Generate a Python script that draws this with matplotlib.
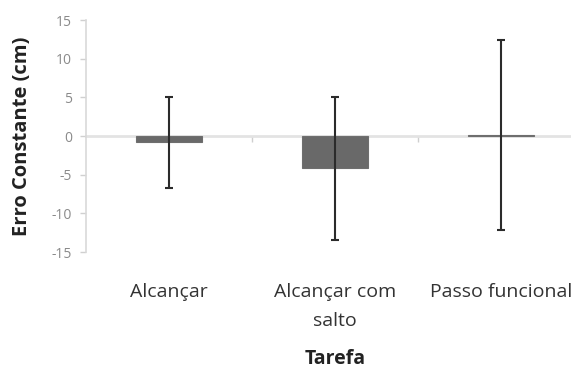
import matplotlib
matplotlib.use("Agg")
import matplotlib.pyplot as plt
import numpy as np

categories = ["Alcançar", "Alcançar com\nsalto", "Passo funcional"]
means = [-0.8, -4.2, 0.1]
errors = [5.9, 9.3, 12.3]
yticks = [-15, -10, -5, 0, 5, 10, 15]

plt.rcParams["font.family"] = ["Open Sans", "DejaVu Sans"]

fig = plt.figure(figsize=(5.71, 3.71), dpi=100)
ax = fig.add_axes([86 / 571, 1 - 252 / 371, 498 / 571, 232 / 371])

x = np.arange(len(categories))
ax.bar(x, means, width=0.4, color="#696969", edgecolor="#6e6e6e", linewidth=0.8, zorder=2)
ax.errorbar(x, means, yerr=errors, fmt="none", ecolor="#2b2b2b", elinewidth=1.5,
            capsize=3, capthick=1.5, zorder=3)

ax.set_xlim(-0.5, 2.5)
ax.set_ylim(-15, 15)
ax.set_yticks(yticks)
ax.set_yticklabels([str(v) for v in yticks], color="#8a8a8a", fontsize=10)
ax.tick_params(axis="y", length=4, color="#d0d0d0", width=1, pad=6)

ax.set_xticks(x)
ax.set_xticklabels(categories, fontsize=14, color="#333333", linespacing=1.8)
ax.tick_params(axis="x", length=0, pad=22)

for s in ["top", "right", "bottom"]:
    ax.spines[s].set_visible(False)
ax.spines["left"].set_color("#d9d9d9")
ax.spines["left"].set_linewidth(1.2)

# category axis drawn through zero, with boundary ticks below the line
zero_axis = ax.secondary_xaxis(0.5)
zero_axis.set_xticks([0.5, 1.5])
zero_axis.set_xticklabels([])
zero_axis.tick_params(length=4, color="#cfcfcf", width=1, direction="in")
for sp in zero_axis.spines.values():
    sp.set_color("#e3e3e3")
    sp.set_linewidth(2)

ax.set_ylabel("Erro Constante (cm)", fontsize=14.5, fontweight="bold", color="#222222")
ax.set_xlabel("Tarefa", fontsize=14, fontweight="bold", color="#222222")
ax.yaxis.set_label_coords(-0.108, 0.5)
ax.xaxis.set_label_coords(0.5, -0.42)

fig.savefig("out.png", dpi=100)
